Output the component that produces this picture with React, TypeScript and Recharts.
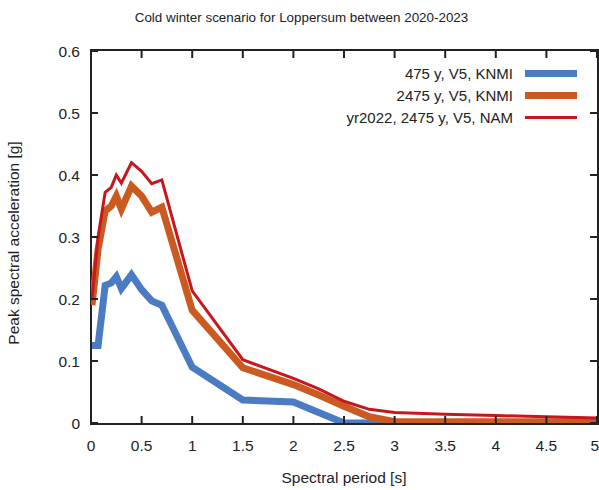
import React from "react";
import { LineChart, Line, XAxis, YAxis } from "recharts";

const periods = [0.01, 0.07, 0.14, 0.2, 0.25, 0.3, 0.4, 0.5, 0.6, 0.7, 1, 1.5, 2, 2.25, 2.5, 2.75, 3, 3.5, 4, 4.5, 5];
const knmi475 = [0.125, 0.125, 0.222, 0.226, 0.236, 0.217, 0.239, 0.215, 0.197, 0.19, 0.09, 0.037, 0.034, 0.017, 0.0, 0, 0, 0, 0, 0, 0];
const knmi2475 = [0.19, 0.28, 0.342, 0.35, 0.366, 0.345, 0.382, 0.366, 0.34, 0.348, 0.182, 0.089, 0.062, 0.045, 0.027, 0.01, 0.002, 0.002, 0.002, 0.002, 0.002];
const nam2475 = [0.2, 0.3, 0.372, 0.38, 0.4, 0.387, 0.42, 0.406, 0.386, 0.392, 0.213, 0.102, 0.072, 0.055, 0.035, 0.022, 0.017, 0.014, 0.012, 0.01, 0.008];

const xTicks = [0, 0.5, 1, 1.5, 2, 2.5, 3, 3.5, 4, 4.5, 5];
const yTicks = [0, 0.1, 0.2, 0.3, 0.4, 0.5, 0.6];
const xDomain = [0, 5];
const yDomain = [0, 0.6];

const seriesNames = ["475 y, V5, KNMI", "2475 y, V5, KNMI", "yr2022, 2475 y, V5, NAM"];
const seriesColors = ["#4a7bc3", "#cb5a20", "#c8161d"];
const seriesWidths = [7, 7, 3];

const title = "Cold winter scenario for Loppersum between 2020-2023";
const xLabel = "Spectral period [s]";
const yLabel = "Peak spectral acceleration [g]";

const data = periods.map((p, i) => ({
  period: p,
  a: knmi475[i],
  b: knmi2475[i],
  c: nam2475[i],
}));

const FONT = "'Liberation Sans', Arial, sans-serif";
const TICK_LEN = 7;
const INK = "#222222";
const LABEL_SIZE = 15.5;
const FRAME_W = 2;

const BottomTick = (props: any) => {
  const { x, y, payload } = props;
  const isLast = payload.value === xTicks[xTicks.length - 1];
  return (
    <g>
      <path d={`M${x},${y}V${y - TICK_LEN}`} stroke={INK} strokeWidth={FRAME_W} fill="none" />
      <text
        x={isLast ? x + 2 : x}
        y={y + 28}
        textAnchor={isLast ? "end" : "middle"}
        fontSize={LABEL_SIZE}
        fontFamily={FONT}
        fill={INK}
      >
        {String(payload.value)}
      </text>
    </g>
  );
};

const TopTick = (props: any) => {
  const { x, y } = props;
  return <path d={`M${x},${y}V${y + TICK_LEN}`} stroke={INK} strokeWidth={FRAME_W} fill="none" />;
};

const LeftTick = (props: any) => {
  const { x, y, payload } = props;
  return (
    <g>
      <path d={`M${x},${y}H${x + TICK_LEN}`} stroke={INK} strokeWidth={FRAME_W} fill="none" />
      <text x={x - 11} y={y + 5.5} textAnchor="end" fontSize={LABEL_SIZE} fontFamily={FONT} fill={INK}>
        {String(payload.value)}
      </text>
    </g>
  );
};

const RightTick = (props: any) => {
  const { x, y } = props;
  return <path d={`M${x},${y}H${x - TICK_LEN}`} stroke={INK} strokeWidth={FRAME_W} fill="none" />;
};

export default function App() {
  return (
    <div style={{ position: "relative", width: 599, height: 490, background: "#fff", fontFamily: FONT }}>
      <style>{"body{margin:0;}"}</style>
      <div style={{ position: "absolute", left: 0, width: 599, top: 10, textAlign: "center", fontSize: 13.4, color: INK, paddingLeft: 2 }}>
        {title}
      </div>
      <div style={{ position: "absolute", left: 91, width: 506, top: 469, textAlign: "center", fontSize: LABEL_SIZE, color: INK }}>
        {xLabel}
      </div>
      <div
        style={{
          position: "absolute",
          left: 14,
          top: 243,
          transform: "translate(-50%, -50%) rotate(-90deg)",
          whiteSpace: "nowrap",
          fontSize: LABEL_SIZE,
          color: INK,
        }}
      >
        {yLabel}
      </div>
      <div
        style={{
          position: "absolute",
          left: 90,
          top: 49,
          width: 505,
          height: 372,
          border: `${FRAME_W}px solid ${INK}`,
          pointerEvents: "none",
        }}
      />
      <div style={{ position: "absolute", left: 0, top: 0 }}>
        <LineChart width={599} height={490} data={data} margin={{ top: 50, right: 1, bottom: 37, left: 0 }}>
          <XAxis
            dataKey="period"
            type="number"
            domain={xDomain}
            ticks={xTicks}
            height={30}
            tickSize={0}
            tickMargin={0}
            tick={<BottomTick />}
            axisLine={false}
            interval={0}
            allowDataOverflow
          />
          <XAxis
            xAxisId="top"
            orientation="top"
            dataKey="period"
            type="number"
            domain={xDomain}
            ticks={xTicks}
            height={1}
            tickSize={0}
            tickMargin={0}
            tick={<TopTick />}
            axisLine={false}
            interval={0}
            allowDataOverflow
          />
          <YAxis
            type="number"
            domain={yDomain}
            ticks={yTicks}
            width={91}
            tickSize={0}
            tickMargin={0}
            tick={<LeftTick />}
            axisLine={false}
            interval={0}
            allowDataOverflow
          />
          <YAxis
            yAxisId="right"
            orientation="right"
            type="number"
            domain={yDomain}
            ticks={yTicks}
            width={1}
            tickSize={0}
            tickMargin={0}
            tick={<RightTick />}
            axisLine={false}
            interval={0}
            allowDataOverflow
          />
          <Line dataKey="a" name={seriesNames[0]} stroke={seriesColors[0]} strokeWidth={seriesWidths[0]} dot={false} isAnimationActive={false} strokeLinejoin="miter" />
          <Line dataKey="b" name={seriesNames[1]} stroke={seriesColors[1]} strokeWidth={seriesWidths[1]} dot={false} isAnimationActive={false} strokeLinejoin="miter" />
          <Line dataKey="c" name={seriesNames[2]} stroke={seriesColors[2]} strokeWidth={seriesWidths[2]} dot={false} isAnimationActive={false} strokeLinejoin="miter" />
        </LineChart>
      </div>
      <div style={{ position: "absolute", right: 22, top: 62, fontFamily: FONT, fontSize: 15, color: INK }}>
        {seriesNames.map((n, i) => (
          <div key={n} style={{ display: "flex", alignItems: "center", justifyContent: "flex-end", height: 22 }}>
            <span style={{ marginRight: 12, whiteSpace: "nowrap" }}>{n}</span>
            <span style={{ display: "inline-block", width: 52, height: seriesWidths[i], background: seriesColors[i] }} />
          </div>
        ))}
      </div>
    </div>
  );
}
